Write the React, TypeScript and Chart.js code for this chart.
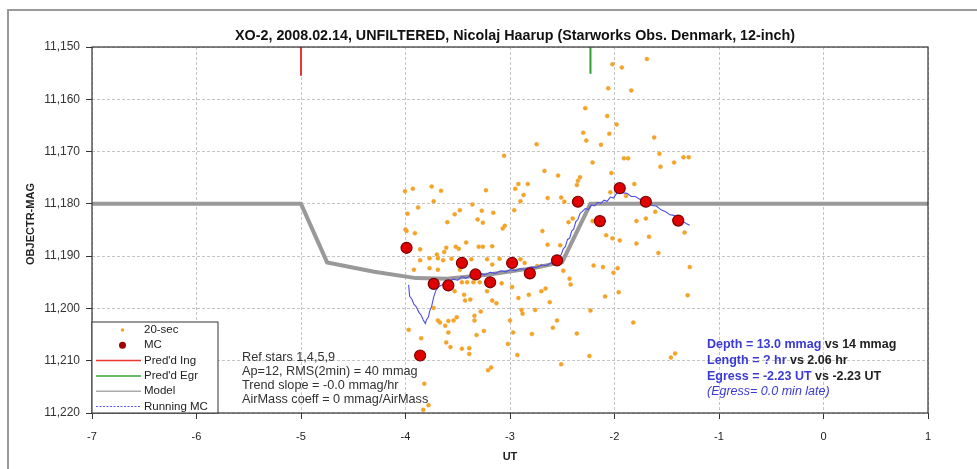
import React, { useEffect, useRef } from "react";
import { Chart, registerables } from "chart.js";

Chart.register(...registerables);

const TITLE = "XO-2, 2008.02.14, UNFILTERED, Nicolaj Haarup (Starworks Obs. Denmark, 12-inch)";
const Y_TITLE = "OBJECTR-MAG";
const X_TITLE = "UT";
const X_MIN = -7;
const X_MAX = 1;
const Y_MIN = 11.15;
const Y_MAX = 11.22;

// 20-sec observations [UT, mag]
const DOTS: number[][] = [
  [-2.745, 11.1686], [-3.057, 11.1708], [-4.005, 11.1776], [-3.93, 11.1771], [-3.75, 11.1767],
  [-3.66, 11.1775], [-3.23, 11.1774], [-2.95, 11.1771], [-2.92, 11.1762], [-2.83, 11.1762],
  [-2.87, 11.1783], [-2.9, 11.1795], [-3.73, 11.1795], [-3.88, 11.1807], [-3.98, 11.1819],
  [-3.36, 11.1801], [-3.48, 11.1812], [-3.53, 11.182], [-3.27, 11.1813], [-3.16, 11.1817],
  [-3.6, 11.1835], [-3.31, 11.183], [-3.26, 11.1836], [-2.96, 11.1812], [-3.05, 11.1842],
  [-3.07, 11.1847], [-4.0, 11.1849],
  [-1.69, 11.1523], [-2.02, 11.1533], [-1.93, 11.1539], [-2.06, 11.1579], [-1.84, 11.1583],
  [-2.28, 11.1617], [-2.07, 11.1632], [-1.98, 11.1648], [-2.3, 11.1664], [-2.05, 11.1666],
  [-1.62, 11.1673], [-2.27, 11.1679], [-2.13, 11.1687], [-1.57, 11.1704], [-1.91, 11.1713],
  [-1.87, 11.1713], [-1.34, 11.1711], [-1.29, 11.1711], [-2.21, 11.1721], [-1.43, 11.1721],
  [-1.56, 11.1729], [-2.67, 11.1737], [-2.03, 11.1741], [-2.54, 11.1746], [-2.33, 11.1749],
  [-2.35, 11.1756], [-2.36, 11.1764], [-1.81, 11.1762], [-2.04, 11.1778], [-1.89, 11.1785],
  [-2.64, 11.1789], [-2.51, 11.1788], [-2.48, 11.1796], [-1.61, 11.1815], [-2.4, 11.1828],
  [-2.44, 11.1835], [-2.21, 11.1833], [-1.79, 11.1833], [-1.7, 11.1828], [-1.43, 11.1831],
  [-3.99, 11.1852], [-3.91, 11.1856], [-3.42, 11.1874], [-3.52, 11.1882], [-3.49, 11.1886],
  [-3.61, 11.1884], [-3.63, 11.1892], [-3.7, 11.1897], [-3.3, 11.1882], [-3.26, 11.1882],
  [-3.17, 11.1881], [-3.86, 11.1887], [-3.77, 11.1904], [-3.69, 11.1904], [-3.86, 11.1908],
  [-3.64, 11.1908], [-3.56, 11.1905], [-3.37, 11.1906], [-3.22, 11.1906], [-3.17, 11.1916],
  [-3.1, 11.1905], [-3.92, 11.1926], [-3.77, 11.1923], [-3.69, 11.1926], [-3.48, 11.1926],
  [-3.41, 11.195], [-3.46, 11.195], [-3.35, 11.195], [-3.29, 11.195], [-2.9, 11.1906],
  [-2.86, 11.1913], [-2.74, 11.1919], [-2.7, 11.1919], [-3.08, 11.1952], [-2.98, 11.1959],
  [-3.22, 11.1967], [-3.53, 11.1967], [-3.44, 11.1974], [-3.43, 11.1985], [-3.38, 11.1983],
  [-3.17, 11.1985], [-3.13, 11.199], [-2.92, 11.198], [-2.82, 11.1974], [-2.7, 11.1967],
  [-3.73, 11.1999], [-2.89, 11.2003], [-2.76, 11.2003], [-2.88, 11.201], [-3.28, 11.2006],
  [-3.34, 11.2014], [-3.69, 11.2023], [-3.67, 11.2027], [-3.59, 11.2024], [-3.54, 11.2023],
  [-3.51, 11.2017], [-3.62, 11.2033], [-3.34, 11.2023], [-3.0, 11.2023], [-3.97, 11.2041],
  [-3.59, 11.2046], [-3.25, 11.2043], [-2.97, 11.2046], [-2.79, 11.2049], [-3.85, 11.2057],
  [-3.32, 11.2051], [-3.61, 11.2065], [-3.57, 11.2074], [-3.46, 11.2077], [-3.39, 11.2076],
  [-3.39, 11.2087], [-3.02, 11.2068], [-2.93, 11.2089], [-3.21, 11.2118], [-3.18, 11.2113],
  [-3.82, 11.2144], [-3.78, 11.2185], [-3.83, 11.2194],
  [-2.69, 11.1852], [-2.08, 11.186], [-2.02, 11.1866], [-1.95, 11.187], [-1.79, 11.1876],
  [-1.67, 11.1863], [-1.33, 11.1855], [-2.64, 11.1878], [-2.52, 11.1879], [-1.58, 11.1894],
  [-2.2, 11.1918], [-2.11, 11.1921], [-1.97, 11.1923], [-1.28, 11.1921], [-2.49, 11.1928],
  [-2.01, 11.1932], [-2.43, 11.1943], [-2.42, 11.1954], [-2.66, 11.1962], [-1.96, 11.1969],
  [-2.09, 11.1977], [-1.3, 11.1975], [-2.62, 11.1988], [-2.23, 11.2004], [-1.82, 11.2027],
  [-2.55, 11.2023], [-2.59, 11.2037], [-2.36, 11.2048], [-2.24, 11.2091], [-1.42, 11.2086],
  [-1.46, 11.2094], [-2.51, 11.2107],
];

// MC averages [UT, mag]
const MC: number[][] = [
  [-3.99, 11.1884], [-3.86, 11.209], [-3.73, 11.1953], [-3.59, 11.1956], [-3.46, 11.1913],
  [-3.33, 11.1935], [-3.19, 11.195], [-2.98, 11.1913], [-2.81, 11.1933], [-2.55, 11.1908],
  [-2.35, 11.1796], [-2.14, 11.1833], [-1.95, 11.177], [-1.7, 11.1796], [-1.39, 11.1832],
];

// Running MC [UT, mag]
const RUNNING: number[][] = [
  [-3.97, 11.1955], [-3.96, 11.1977], [-3.94, 11.1982], [-3.92, 11.1992], [-3.9, 11.1996],
  [-3.87, 11.2008], [-3.85, 11.2013], [-3.83, 11.2022], [-3.81, 11.2029], [-3.8, 11.2022],
  [-3.78, 11.2016], [-3.77, 11.2006], [-3.75, 11.1996], [-3.73, 11.1978], [-3.71, 11.1966],
  [-3.68, 11.1958], [-3.65, 11.1955], [-3.62, 11.1950], [-3.58, 11.1952], [-3.55, 11.1944],
  [-3.5, 11.1946], [-3.46, 11.1939], [-3.42, 11.1942], [-3.37, 11.1936], [-3.33, 11.1939],
  [-3.28, 11.1933], [-3.24, 11.1936], [-3.19, 11.1931], [-3.14, 11.1933], [-3.09, 11.1928],
  [-3.04, 11.1930], [-3.0, 11.1926], [-2.95, 11.1928], [-2.9, 11.1924], [-2.85, 11.1925],
  [-2.8, 11.1921], [-2.75, 11.1922], [-2.7, 11.1917], [-2.65, 11.1918], [-2.6, 11.1912],
  [-2.56, 11.1910], [-2.53, 11.1902], [-2.51, 11.1897], [-2.49, 11.1886], [-2.47, 11.1882],
  [-2.45, 11.1868], [-2.43, 11.1866], [-2.41, 11.1852], [-2.39, 11.1848], [-2.37, 11.1834],
  [-2.35, 11.1830], [-2.33, 11.1818], [-2.31, 11.1815], [-2.28, 11.1809], [-2.25, 11.1811],
  [-2.22, 11.1802], [-2.19, 11.1804], [-2.16, 11.1797], [-2.13, 11.1799], [-2.1, 11.1793],
  [-2.07, 11.1795], [-2.04, 11.1787], [-2.01, 11.1789], [-1.98, 11.1780], [-1.95, 11.1775],
  [-1.92, 11.1779], [-1.88, 11.1780], [-1.84, 11.1786], [-1.8, 11.1786], [-1.76, 11.1791],
  [-1.72, 11.1792], [-1.68, 11.1797], [-1.64, 11.1803], [-1.6, 11.1804], [-1.55, 11.1812],
  [-1.51, 11.1815], [-1.47, 11.1821], [-1.43, 11.1822], [-1.39, 11.1829], [-1.35, 11.1833],
  [-1.31, 11.1838], [-1.28, 11.1841],
];

// Transit model
const MODEL_X = [-7, -5.0, -4.75, -4.3, -3.9, -3.6, -3.2, -2.75, -2.5, -2.23, 1];
const MODEL_Y = [11.18, 11.18, 11.1912, 11.193, 11.1942, 11.1943, 11.1935, 11.1922, 11.1911, 11.18, 11.18];

// Predicted ingress / egress markers
const ING_X = -5.0;
const EGR_X = -2.23;
const ING_Y = [11.15, 11.1555];
const EGR_Y = [11.15, 11.1551];

const LEGEND_ITEMS = ["20-sec", "MC", "Pred'd Ing", "Pred'd Egr", "Model", "Running MC"];
const NOTES_LEFT = [
  "Ref stars 1,4,5,9",
  "Ap=12, RMS(2min) = 40 mmag",
  "Trend slope = -0.0 mmag/hr",
  "AirMass coeff = 0 mmag/AirMass",
];
const NOTES_RIGHT: [string, string][] = [
  ["Depth = 13.0 mmag", " vs 14 mmag"],
  ["Length = ? hr", " vs 2.06 hr"],
  ["Egress = -2.23 UT", " vs -2.23 UT"],
];
const NOTE_ITALIC = "(Egress= 0.0 min late)";

const ORANGE = "#f4a423";
const BLUE_TXT = "#3a3ad6";
const FONT = "'Liberation Sans', Arial, sans-serif";

const overlay = {
  id: "overlay",
  beforeDraw(chart: any) {
    const ctx = chart.ctx;
    ctx.save();
    ctx.fillStyle = "#fff";
    ctx.fillRect(0, 0, chart.width, chart.height);
    ctx.strokeStyle = "#9a9a9a";
    ctx.lineWidth = 2;
    ctx.beginPath();
    ctx.moveTo(8, chart.height);
    ctx.lineTo(8, 10);
    ctx.lineTo(chart.width, 10);
    ctx.stroke();
    ctx.restore();
  },
  afterDraw(chart: any) {
    const ctx = chart.ctx;
    const a = chart.chartArea;
    ctx.save();
    // plot border
    ctx.strokeStyle = "#333";
    ctx.lineWidth = 1.2;
    ctx.strokeRect(a.left, a.top, a.right - a.left, a.bottom - a.top);

    // title
    ctx.fillStyle = "#111";
    ctx.font = `bold 14.3px ${FONT}`;
    ctx.textAlign = "center";
    ctx.textBaseline = "middle";
    ctx.fillText(TITLE, 515, 36);

    // axis titles
    ctx.font = `bold 11px ${FONT}`;
    ctx.fillStyle = "#222";
    ctx.fillText(X_TITLE, (a.left + a.right) / 2, 457);
    ctx.save();
    ctx.translate(31, (a.top + a.bottom) / 2 - 6);
    ctx.rotate(-Math.PI / 2);
    ctx.fillText(Y_TITLE, 0, 0);
    ctx.restore();

    // legend
    const lx = a.left, ly = 322, lw = 126, lh = a.bottom - 322;
    ctx.fillStyle = "#fff";
    ctx.fillRect(lx, ly, lw, lh);
    ctx.strokeStyle = "#333";
    ctx.lineWidth = 1;
    ctx.strokeRect(lx, ly, lw, lh);
    ctx.font = `11.5px ${FONT}`;
    ctx.textAlign = "left";
    ctx.textBaseline = "middle";
    LEGEND_ITEMS.forEach((t, i) => {
      const y = 330 + i * 15.3;
      const x0 = lx + 4, x1 = lx + 49, xc = (x0 + x1) / 2 + 4;
      if (i === 0) {
        ctx.fillStyle = ORANGE;
        ctx.beginPath(); ctx.arc(xc, y, 1.8, 0, Math.PI * 2); ctx.fill();
      } else if (i === 1) {
        ctx.fillStyle = "#a00000";
        ctx.beginPath(); ctx.arc(xc, y, 3.5, 0, Math.PI * 2); ctx.fill();
      } else {
        const colors = ["", "", "#e33", "#3a3", "#aaa", "#5a5aee"];
        ctx.strokeStyle = colors[i];
        ctx.lineWidth = i === 5 ? 1.2 : 1.5;
        ctx.setLineDash(i === 5 ? [2, 1.5] : []);
        ctx.beginPath(); ctx.moveTo(x0, y); ctx.lineTo(x1, y); ctx.stroke();
        ctx.setLineDash([]);
      }
      ctx.fillStyle = "#222";
      ctx.fillText(t, lx + 52, y);
    });

    // left notes
    ctx.font = `12.7px ${FONT}`;
    ctx.fillStyle = "#333";
    NOTES_LEFT.forEach((t, i) => ctx.fillText(t, 242, 357 + i * 14));

    // right notes
    ctx.font = `bold 12.5px ${FONT}`;
    NOTES_RIGHT.forEach(([b, r], i) => {
      const y = 345 + i * 15.6;
      ctx.fillStyle = BLUE_TXT;
      ctx.fillText(b, 707, y);
      const w = ctx.measureText(b).width;
      ctx.fillStyle = "#222";
      ctx.fillText(r, 707 + w, y);
    });
    ctx.font = `italic 12.5px ${FONT}`;
    ctx.fillStyle = BLUE_TXT;
    ctx.fillText(NOTE_ITALIC, 707, 345 + 3 * 15.6);
    ctx.restore();
  },
};

export default function App() {
  const ref = useRef<HTMLCanvasElement>(null);
  useEffect(() => {
    document.body.style.margin = "0";
    const pts = (arr: number[][]) => arr.map(([x, y]) => ({ x, y }));
    const chart = new Chart(ref.current!, {
      type: "scatter",
      data: {
        datasets: [
          {
            label: "MC",
            data: pts(MC),
            pointRadius: 5.5,
            pointBackgroundColor: "#e00000",
            pointBorderColor: "#7a0000",
            pointBorderWidth: 1.2,
            order: 0,
          },
          {
            label: "Running MC",
            type: "line",
            data: pts(RUNNING),
            borderColor: "#4d4de6",
            borderWidth: 1.1,
            pointRadius: 0,
            tension: 0,
            order: 1,
          },
          {
            label: "Model",
            type: "line",
            data: MODEL_X.map((x, i) => ({ x, y: MODEL_Y[i] })),
            borderColor: "#999",
            borderWidth: 4,
            pointRadius: 0,
            tension: 0,
            order: 2,
          },
          {
            label: "Pred'd Ing",
            type: "line",
            data: ING_Y.map((y) => ({ x: ING_X, y })),
            borderColor: "#e33",
            borderWidth: 2,
            pointRadius: 0,
            order: 3,
          },
          {
            label: "Pred'd Egr",
            type: "line",
            data: EGR_Y.map((y) => ({ x: EGR_X, y })),
            borderColor: "#2e9e2e",
            borderWidth: 2,
            pointRadius: 0,
            order: 3,
          },
          {
            label: "20-sec",
            data: pts(DOTS),
            pointRadius: 2,
            pointBackgroundColor: ORANGE,
            pointBorderColor: "#f0a030",
            pointBorderWidth: 0.5,
            order: 4,
          },
        ],
      },
      options: {
        animation: false,
        responsive: true,
        maintainAspectRatio: false,
        layout: { padding: { top: 47, right: 49, left: 0, bottom: 0 } },
        plugins: { legend: { display: false }, tooltip: { enabled: false }, title: { display: false } },
        scales: {
          x: {
            type: "linear",
            min: X_MIN,
            max: X_MAX,
            afterFit: (s: any) => { s.height = 56; },
            ticks: {
              stepSize: 1,
              color: "#222",
              font: { family: FONT, size: 11 },
              padding: 11,
              callback: (v: any) => String(v),
            },
            grid: { color: "#c4c4c4", lineWidth: 1, tickLength: 6, tickColor: "#333", tickBorderDash: [] },
            border: { display: false, dash: [3, 2] },
          },
          y: {
            type: "linear",
            reverse: true,
            min: Y_MIN,
            max: Y_MAX,
            afterFit: (s: any) => { s.width = 92; },
            ticks: {
              stepSize: 0.01,
              color: "#333",
              font: { family: FONT, size: 12 },
              padding: 6,
              callback: (v: any) => Number(v).toFixed(3).replace(".", ","),
            },
            grid: { color: "#c4c4c4", lineWidth: 1, tickLength: 6, tickColor: "#333", tickBorderDash: [] },
            border: { display: false, dash: [3, 2] },
          },
        },
      },
      plugins: [overlay],
    });
    return () => chart.destroy();
  }, []);
  return (
    <div style={{ position: "relative", width: 977, height: 469 }}>
      <canvas ref={ref} />
    </div>
  );
}
